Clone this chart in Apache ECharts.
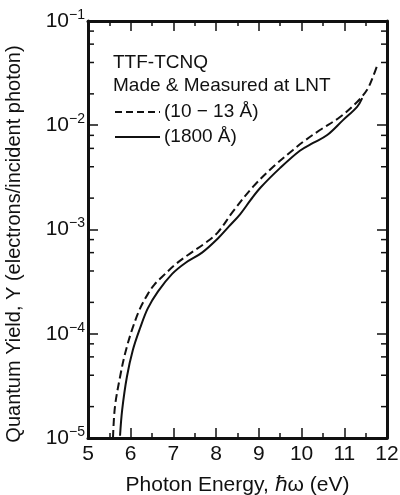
<!DOCTYPE html>
<html>
<head>
<meta charset="utf-8">
<script src="https://cdn.jsdelivr.net/npm/echarts@6/dist/echarts.min.js"></script>
<style>html,body{margin:0;padding:0;background:#fff}#c{width:400px;height:495px}</style>
</head>
<body>
<div id="c"></div>
<script>
// Data
var dashedName = '(10 \u2212 13 \u00C5)';
var solidName = '(1800 \u00C5)';
var dashedX = [5.585, 5.63, 5.75, 5.87, 6.03, 6.22, 6.40, 6.55, 6.73, 7.04, 7.34, 7.74, 8.04, 8.40, 8.86, 9.33, 9.80, 10.03, 10.43, 10.90, 11.30, 11.53, 11.67, 11.79];
var dashedY = [1.0e-5, 1.98e-5, 3.85e-5, 6.5e-5, 1.09e-4, 1.75e-4, 2.4e-4, 2.95e-4, 3.5e-4, 4.6e-4, 5.7e-4, 7.4e-4, 9.4e-4, 1.5e-3, 2.56e-3, 3.98e-3, 5.8e-3, 6.9e-3, 9.0e-3, 1.2e-2, 1.67e-2, 2.18e-2, 2.9e-2, 3.95e-2];
var solidX = [5.75, 5.80, 5.91, 6.05, 6.22, 6.40, 6.64, 6.97, 7.27, 7.67, 8.04, 8.30, 8.56, 8.80, 9.03, 9.50, 9.96, 10.27, 10.60, 10.97, 11.30, 11.42];
var solidY = [1.05e-5, 1.86e-5, 3.85e-5, 6.98e-5, 1.135e-4, 1.75e-4, 2.55e-4, 3.75e-4, 4.75e-4, 6.0e-4, 8.2e-4, 1.07e-3, 1.4e-3, 1.9e-3, 2.5e-3, 3.9e-3, 5.7e-3, 6.76e-3, 8.05e-3, 1.12e-2, 1.5e-2, 1.82e-2];
var xTicks = [5, 6, 7, 8, 9, 10, 11, 12];
var yDecades = [1e-5, 1e-4, 1e-3, 1e-2, 1e-1];
var yMinorMult = [2, 4, 6, 8];
var titleLines = ['TTF-TCNQ', 'Made & Measured at LNT'];
var xTitle = 'Photon Energy, \u210F\u03C9 (eV)';
var yTitle = 'Quantum Yield, Y (electrons/incident photon)';

function pairs(xs, ys) { return xs.map(function (x, i) { return [x, ys[i]]; }); }
var minorVals = [];
yDecades.slice(0, -1).forEach(function (d) { yMinorMult.forEach(function (m) { minorVals.push(m * d); }); });

var FONT = '"Liberation Sans", Arial, Helvetica, sans-serif';
var INK = '#111';

var chart = echarts.init(document.getElementById('c'), null, { renderer: 'canvas' });
var axisCommon = {
  axisLine: { show: true, onZero: false, lineStyle: { color: INK, width: 3 } },
  axisTick: { show: true, inside: true, length: 10, lineStyle: { color: INK, width: 1.5 } },
  splitLine: { show: false }
};
function legendRow(y, name, dash) {
  return [
    { type: 'line', shape: { x1: 115, y1: y, x2: 160, y2: y }, style: { stroke: INK, lineWidth: 2, lineDash: dash } },
    { type: 'text', x: 164, y: y, style: { text: name, fill: INK, font: '19px ' + FONT, textVerticalAlign: 'middle', verticalAlign: 'middle' } }
  ];
}
var yTitleEl = {
  type: 'text', x: 14, y: 244, rotation: Math.PI / 2,
  style: { text: yTitle, fill: INK, font: '20px ' + FONT, align: 'center', verticalAlign: 'middle', textAlign: 'center', textVerticalAlign: 'middle' }
};
chart.setOption({
  backgroundColor: '#fff',
  animation: false,
  textStyle: { fontFamily: FONT },
  title: {
    text: titleLines.join('\n'), left: 113, top: 51, padding: 0,
    textStyle: { fontFamily: FONT, fontSize: 19, fontWeight: 'normal', color: INK, lineHeight: 23.5 }
  },
  graphic: legendRow(112, dashedName, [7, 4]).concat(legendRow(137, solidName, null)).concat([yTitleEl]),
  grid: { left: 88, right: 13, top: 21, bottom: 57, outerBoundsMode: 'none', containLabel: false },
  xAxis: [
    Object.assign({}, axisCommon, {
      type: 'value', min: xTicks[0], max: xTicks[xTicks.length - 1], interval: 1, position: 'bottom',
      minorTick: { show: true, splitNumber: 2, length: 5, lineStyle: { color: INK, width: 1.5 } },
      axisLabel: { margin: 6, fontSize: 21, color: INK, fontFamily: FONT },
      name: xTitle, nameLocation: 'middle', nameGap: 37,
      nameTextStyle: { fontSize: 21, color: INK, fontFamily: FONT }
    }),
    Object.assign({}, axisCommon, {
      type: 'value', min: xTicks[0], max: xTicks[xTicks.length - 1], interval: 1, position: 'top',
      minorTick: { show: true, splitNumber: 2, length: 5, lineStyle: { color: INK, width: 1.5 } },
      axisLabel: { show: false }
    })
  ],
  yAxis: [
    Object.assign({}, axisCommon, {
      type: 'log', logBase: 10, min: yDecades[0], max: yDecades[yDecades.length - 1], position: 'left',
      axisLabel: {
        margin: 3, color: INK, fontFamily: FONT,
        formatter: function (v) {
          var e = Math.round(Math.log10(v));
          return '{b|10}{s|\u2212' + (-e) + '}';
        },
        rich: {
          b: { fontSize: 21, color: INK, fontFamily: FONT, lineHeight: 26 },
          s: { fontSize: 14, color: INK, fontFamily: FONT, verticalAlign: 'top', lineHeight: 26 }
        }
      }
    }),
    Object.assign({}, axisCommon, {
      type: 'log', logBase: 10, min: yDecades[0], max: yDecades[yDecades.length - 1], position: 'right',
      axisLabel: { show: false }
    })
  ],
  series: [
    {
      name: dashedName, type: 'line', xAxisIndex: 0, yAxisIndex: 0,
      data: pairs(dashedX, dashedY), symbol: 'none', smooth: 0.35,
      lineStyle: { color: INK, width: 2, type: [8, 4] }, itemStyle: { color: INK }
    },
    {
      name: solidName, type: 'line', xAxisIndex: 0, yAxisIndex: 0,
      data: pairs(solidX, solidY), symbol: 'none', smooth: 0.35,
      lineStyle: { color: INK, width: 2 }, itemStyle: { color: INK }
    },
    {
      type: 'custom', xAxisIndex: 0, yAxisIndex: 0, silent: true, clip: false,
      data: minorVals.map(function (v) { return [v]; }),
      encode: { y: 0 },
      renderItem: function (params, api) {
        var v = api.value(0);
        var l = api.coord([xTicks[0], v]);
        var r = api.coord([xTicks[xTicks.length - 1], v]);
        var st = { stroke: INK, lineWidth: 1.5 };
        return { type: 'group', children: [
          { type: 'line', shape: { x1: l[0], y1: l[1], x2: l[0] + 6, y2: l[1] }, style: st },
          { type: 'line', shape: { x1: r[0], y1: r[1], x2: r[0] - 6, y2: r[1] }, style: st }
        ] };
      }
    }
  ]
});
</script>
</body>
</html>
